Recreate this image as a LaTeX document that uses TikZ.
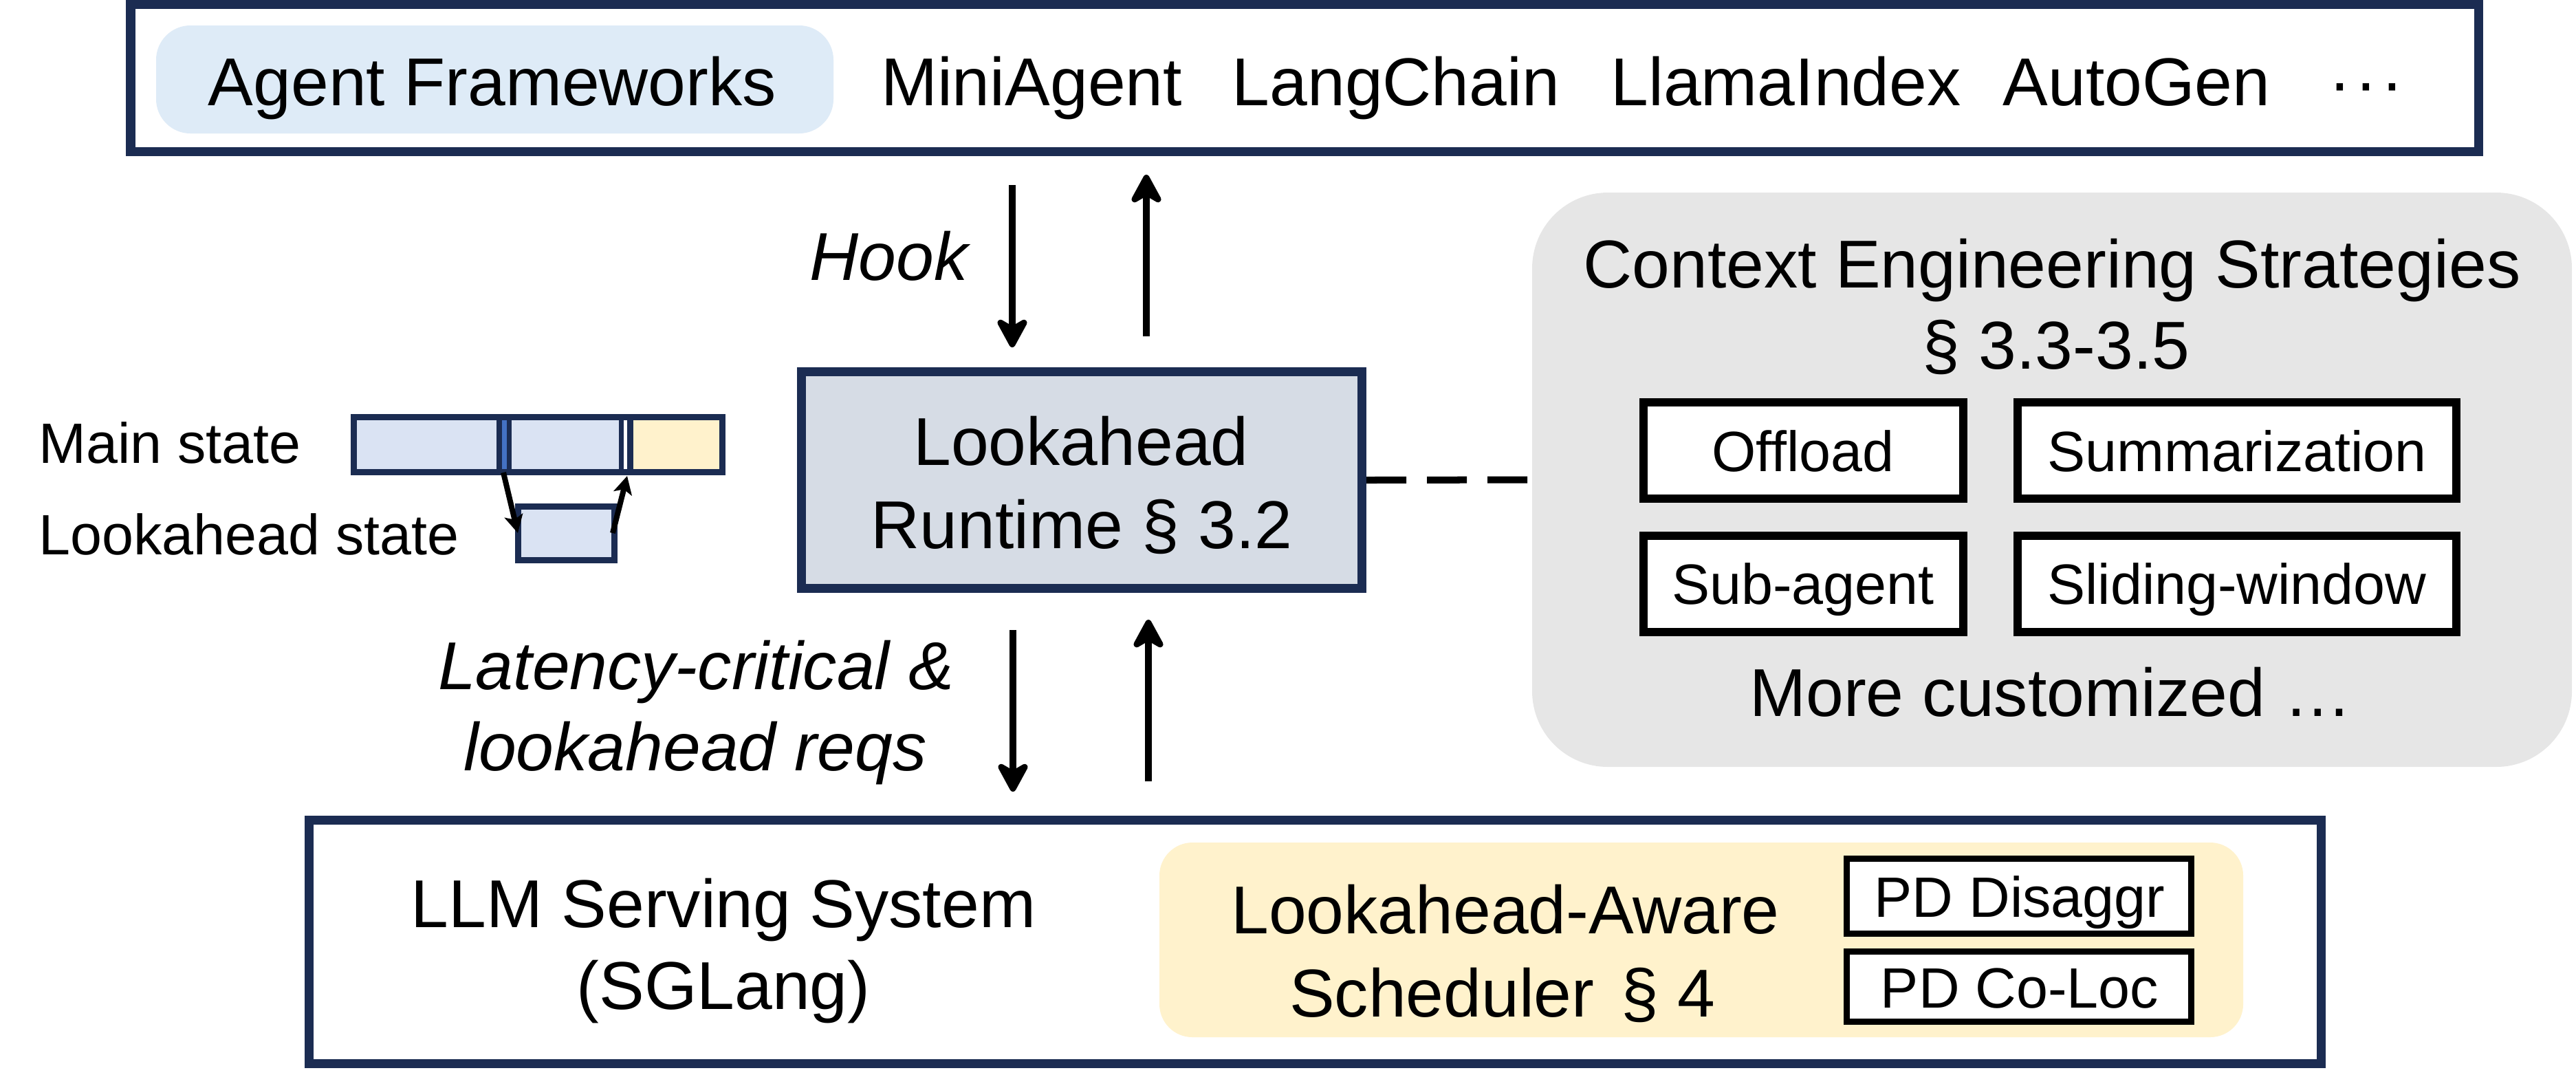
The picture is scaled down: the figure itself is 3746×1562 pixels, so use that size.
\documentclass[tikz,border=0pt]{standalone}
\usepackage{fontspec}
\setmainfont{Liberation Sans}
\usetikzlibrary{arrows.meta,fit}
\definecolor{navy}{RGB}{27,44,82}
\definecolor{pillblue}{RGB}{222,235,247}
\definecolor{rtfill}{RGB}{214,220,229}
\definecolor{panelgray}{RGB}{230,230,230}
\definecolor{softyellow}{RGB}{255,242,204}
\definecolor{stateblue}{RGB}{218,227,243}
\definecolor{midblue}{RGB}{68,114,196}
\newcommand\fbig{\fontsize{28}{34}\selectfont}
\newcommand\fsmall{\fontsize{23.5}{28}\selectfont}
\begin{document}
\begin{tikzpicture}[x=0.01cm,y=-0.01cm,
  navyframe/.style={draw=navy,line width=0.13cm,inner sep=0pt},
  stratbox/.style={draw=black,fill=white,line width=0.12cm,inner sep=0pt},
  pdbox/.style={draw=black,fill=white,line width=0.09cm,inner sep=0pt},
  fillarea/.style={inner sep=0pt,draw=none},
  txt/.style={anchor=base,inner sep=0pt,font=\fbig},
  stxt/.style={anchor=base,inner sep=0pt,font=\fsmall},
  flow/.style={line width=0.1cm,-{Stealth[length=0.52cm,width=0.56cm,inset=0.16cm,round]}},
  tinyflow/.style={line width=0.08cm,-{Stealth[length=0.26cm,width=0.27cm,inset=0.06cm]}},
]
\useasboundingbox (0,0) rectangle (3746,1562);

% ---------- top: agent frameworks ----------
\node[navyframe,fill=white,fit={(190,6.5) (3604,220.5)}] (top) {};
\node[fillarea,fill=pillblue,rounded corners=0.5cm,fit={(227,37) (1212,194)}] (agentpill) {};
\node[txt] (tAF) at (716,153) {Agent Frameworks};
\node[txt] (tMini) at (1500,153) {MiniAgent};
\node[txt] (tLC) at (2030,153) {LangChain};
\node[txt] (tLI) at (2597,153) {LlamaIndex};
\node[txt] (tAG) at (3107,153) {AutoGen};
\node[txt] (tDots) at (3441,153) {·\kern0.055em·\kern0.055em·};

% ---------- hook arrows ----------
\node[txt,anchor=base east,font=\fbig\itshape] (tHook) at (1408,407) {Hook};
\coordinate (h1s) at (1472,269); \coordinate (h1e) at (1472,505);
\coordinate (h2s) at (1667,489); \coordinate (h2e) at (1667,254);
\draw[flow] (h1s) -- (h1e);
\draw[flow] (h2s) -- (h2e);

% ---------- runtime ----------
\node[navyframe,fill=rtfill,fit={(1165.5,540.5) (1980.5,855.5)}] (runtime) {};
\node[txt] (tRt1) at (1572,676) {Lookahead};
\node[txt] (tRt2) at (1573,797) {Runtime § 3.2};

% ---------- context engineering panel ----------
\node[fillarea,fill=panelgray,rounded corners=1.1cm,fit={(2228,280) (3740,1115)}] (panel) {};
\draw[line width=0.1cm,dash pattern=on 0.58cm off 0.3cm] (runtime.east) -- (panel.west);
\node[txt] (tCE1) at (2984,418) {Context Engineering Strategies};
\node[txt] (tCE2) at (2990,536) {§ 3.3-3.5};
\node[stratbox,fit={(2390,585) (2855,725)}] (offload) {};
\node[stratbox,fit={(2934,585) (3572,725)}] (summ) {};
\node[stratbox,fit={(2390,779) (2855,919)}] (subag) {};
\node[stratbox,fit={(2934,779) (3572,919)}] (slide) {};
\node[stxt] (tOff) at (2622,685) {Offload};
\node[stxt] (tSum) at (3253,685) {Summarization};
\node[stxt] (tSub) at (2622,878) {Sub-agent};
\node[stxt] (tSli) at (3253,878) {Sliding-window};
\node[txt] (tMore) at (2982,1041) {More customized …};

% ---------- main / lookahead state ----------
\node[stxt,anchor=base west] (tMain) at (56,673) {Main state};
\node[stxt,anchor=base west] (tLas) at (56,806) {Lookahead state};
\node[fillarea,fill=navy,fit={(510,602) (1055,691)}] (mainbar) {};
\node[fillarea,fill=stateblue,fit={(519,611) (722,682)}] (seg1) {};
\node[fillarea,fill=midblue,fit={(730,611) (737,682)}] (gap1) {};
\node[fillarea,fill=stateblue,fit={(744,611) (900,682)}] (seg2) {};
\node[fillarea,fill=white,fit={(907,611) (912,682)}] (gap2) {};
\node[fillarea,fill=softyellow,fit={(921,611) (1046,682)}] (seg3) {};
\node[draw=navy,line width=0.09cm,fill=stateblue,inner sep=0pt,fit={(753.5,736.5) (893.5,814.5)}] (lastate) {};
\coordinate (s1s) at (732,687); \coordinate (s1e) at (753,775);
\coordinate (s2s) at (891,775); \coordinate (s2e) at (912,692);
\draw[tinyflow] (s1s) -- (s1e);
\draw[tinyflow] (s2s) -- (s2e);

% ---------- request arrows ----------
\node[txt,font=\fbig\itshape] (tLat1) at (1012,1002) {Latency-critical \&};
\node[txt,font=\fbig\itshape] (tLat2) at (1011,1120) {lookahead reqs};
\coordinate (r1s) at (1473,916); \coordinate (r1e) at (1473,1151);
\coordinate (r2s) at (1670,1136); \coordinate (r2e) at (1670,901);
\draw[flow] (r1s) -- (r1e);
\draw[flow] (r2s) -- (r2e);

% ---------- serving system ----------
\node[navyframe,fill=white,fit={(449.5,1192.5) (3375.5,1546)}] (serving) {};
\node[txt] (tLLM1) at (1052,1348) {LLM Serving System};
\node[txt] (tLLM2) at (1052,1467) {(SGLang)};
\node[fillarea,fill=softyellow,rounded corners=0.48cm,fit={(1686,1225) (3262,1508)}] (sched) {};
\node[txt] (tSch1) at (2189,1357) {Lookahead-Aware};
\node[txt] (tSch2) at (2185,1478) {Scheduler\hspace{0.4em}§ 4};
\node[pdbox,fit={(2685.5,1248.5) (3186.5,1357.5)}] (pd1) {};
\node[pdbox,fit={(2685.5,1383.5) (3186.5,1485.5)}] (pd2) {};
\node[stxt] (tPD1) at (2937,1333) {PD Disaggr};
\node[stxt] (tPD2) at (2937,1465) {PD Co-Loc};
\end{tikzpicture}
\end{document}
